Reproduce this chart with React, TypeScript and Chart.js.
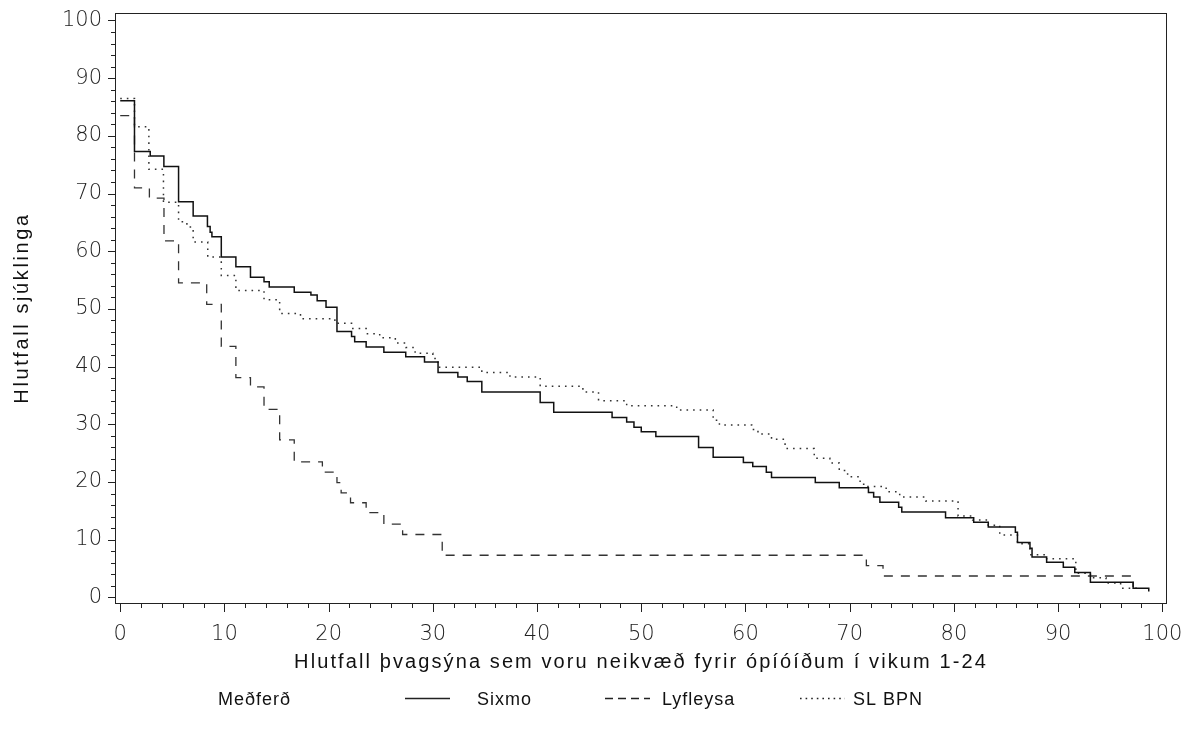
import React, { useEffect, useRef } from "react";
import { Chart, registerables } from "chart.js";

Chart.register(...registerables);

// ---- Data ----
const xTickValues = [0, 10, 20, 30, 40, 50, 60, 70, 80, 90, 100];
const yTickValues = [0, 10, 20, 30, 40, 50, 60, 70, 80, 90, 100];

const seriesNames = ["Sixmo", "Lyfleysa", "SL BPN"];
const legendTitle = "Meðferð";
const xAxisTitle = "Hlutfall þvagsýna sem voru neikvæð fyrir ópíóíðum í vikum 1-24";
const yAxisTitle = "Hlutfall sjúklinga";

// change points: from x onward the curve has value y
const sixmoX = [0, 1.37, 2.88, 4.19, 5.6, 7.0, 8.37, 8.63, 8.8, 9.7, 11.1, 12.5, 13.8, 14.3, 16.7, 18.3, 18.9, 19.75, 20.8, 22.2, 22.5, 23.6, 25.3, 27.4, 29.2, 30.5, 32.4, 33.3, 34.7, 40.3, 41.6, 47.2, 48.6, 49.3, 50.0, 51.4, 55.5, 56.9, 59.8, 60.7, 62.0, 62.5, 66.7, 69.0, 71.8, 72.3, 72.9, 74.7, 75.0, 79.2, 81.9, 83.3, 85.9, 86.1, 87.3, 87.5, 88.9, 90.5, 91.6, 93.1, 97.2, 98.7];
const sixmoY = [86.1, 77.3, 76.5, 74.7, 68.6, 66.1, 64.3, 63.3, 62.5, 59.0, 57.3, 55.5, 54.7, 53.8, 52.9, 52.4, 51.4, 50.3, 46.1, 45.2, 44.3, 43.4, 42.5, 41.7, 40.8, 39.0, 38.2, 37.4, 35.6, 33.8, 32.1, 31.2, 30.4, 29.5, 28.7, 27.9, 26.0, 24.3, 23.4, 22.7, 21.7, 20.8, 19.9, 19.0, 18.2, 17.4, 16.5, 15.6, 14.8, 13.8, 13.0, 12.2, 11.3, 9.5, 8.5, 7.0, 6.1, 5.2, 4.3, 2.6, 1.6, 1.0];

const lyfleysaX = [0, 1.37, 2.8, 4.2, 5.6, 8.3, 9.7, 11.1, 12.5, 13.8, 15.3, 16.7, 19.4, 20.8, 21.2, 22.1, 23.6, 25.3, 27.1, 30.9, 71.6, 73.2, 97.2];
const lyfleysaY = [83.5, 71.0, 69.2, 61.8, 54.5, 50.8, 43.5, 38.1, 36.5, 32.6, 27.3, 23.5, 21.7, 19.9, 18.1, 16.4, 14.7, 12.7, 10.9, 7.3, 5.5, 3.7, 1.8];

const slbpnX = [0, 1.37, 2.75, 4.15, 5.6, 6.4, 7.0, 8.4, 9.7, 11.1, 13.8, 15.3, 17.3, 20.6, 22.2, 23.6, 24.9, 26.4, 27.4, 28.3, 30.0, 30.5, 34.7, 37.4, 40.3, 44.4, 45.9, 48.6, 53.4, 56.9, 57.5, 60.6, 61.2, 62.5, 63.8, 66.6, 68.1, 69.0, 69.8, 71.0, 71.5, 73.5, 74.8, 77.3, 80.4, 81.8, 83.3, 84.4, 86.1, 87.3, 88.9, 91.7, 93.1, 94.6, 96.0, 98.0];
const slbpnY = [86.5, 81.6, 74.2, 68.5, 65.1, 64.2, 61.6, 59.0, 55.8, 53.2, 51.6, 49.2, 48.3, 47.5, 46.6, 45.7, 45.0, 44.1, 43.3, 42.3, 41.4, 39.9, 39.0, 38.2, 36.6, 35.6, 34.1, 33.2, 32.5, 30.7, 29.9, 29.1, 28.3, 27.4, 25.8, 24.1, 23.3, 22.0, 20.9, 19.6, 19.2, 18.3, 17.4, 16.7, 14.1, 13.4, 12.5, 10.8, 9.3, 7.4, 6.7, 4.2, 3.4, 2.5, 1.6, 1.6];

const toPoints = (xs: number[], ys: number[]) => xs.map((x, i) => ({ x, y: ys[i] }));

const W = 1194;
const H = 729;
const TITLE_FONT = "20px 'Liberation Sans', Arial, sans-serif";
const LEGEND_FONT = "18px 'Liberation Sans', Arial, sans-serif";

const dashStyles = [[], [9, 8], [1.6, 5]];
const legendDash = [[], [8, 5], [1.6, 4]];

const decorPlugin = {
  id: "decor",
  afterDraw(chart: any) {
    const ctx = chart.ctx as CanvasRenderingContext2D;
    const { left, right, top, bottom } = chart.chartArea;
    const xs = chart.scales.x;
    const ys = chart.scales.y;
    ctx.save();
    // frame
    ctx.strokeStyle = "#222";
    ctx.lineWidth = 1;
    ctx.setLineDash([]);
    ctx.strokeRect(Math.round(left) + 0.5, Math.round(top) + 0.5, Math.round(right - left) - 1, Math.round(bottom - top) - 1);
    // ticks
    ctx.beginPath();
    for (let v = 0; v <= 100; v += 2) {
      const px = Math.round(xs.getPixelForValue(v)) + 0.5;
      const len = v % 10 === 0 ? 8 : 4;
      ctx.moveTo(px, Math.round(bottom));
      ctx.lineTo(px, Math.round(bottom) + len);
      const py = Math.round(ys.getPixelForValue(v)) + 0.5;
      const ylen = v % 10 === 0 ? 7 : 4;
      ctx.moveTo(Math.round(left), py);
      ctx.lineTo(Math.round(left) - ylen, py);
    }
    ctx.stroke();

    // titles
    ctx.fillStyle = "#111";
    ctx.font = TITLE_FONT;
    (ctx as any).letterSpacing = "2.1px";
    ctx.textAlign = "center";
    ctx.textBaseline = "alphabetic";
    ctx.fillText(xAxisTitle, (left + right) / 2, 668);

    ctx.save();
    ctx.translate(28, 308);
    ctx.rotate(-Math.PI / 2);
    (ctx as any).letterSpacing = "2.6px";
    ctx.fillText(yAxisTitle, 0, 0);
    ctx.restore();

    // legend
    const ly = 705;
    ctx.font = LEGEND_FONT;
    ctx.textAlign = "left";
    ctx.textBaseline = "alphabetic";
    (ctx as any).letterSpacing = "1px";
    ctx.fillText(legendTitle, 218, ly);
    const items = [
      { x1: 405, x2: 450, tx: 477 },
      { x1: 605, x2: 650, tx: 662 },
      { x1: 800, x2: 845, tx: 853 },
    ];
    items.forEach((it, i) => {
      ctx.save();
      ctx.strokeStyle = "#222";
      ctx.lineWidth = 1.3;
      ctx.setLineDash(legendDash[i]);
      ctx.beginPath();
      ctx.moveTo(it.x1, ly - 6.5);
      ctx.lineTo(it.x2, ly - 6.5);
      ctx.stroke();
      ctx.restore();
      ctx.fillText(seriesNames[i], it.tx, ly);
    });
    ctx.restore();
  },
};

export default function App() {
  const canvasRef = useRef<HTMLCanvasElement | null>(null);

  useEffect(() => {
    const canvas = canvasRef.current;
    if (!canvas) return;
    const tickFont = { family: "'DejaVu Sans', sans-serif", size: 21, weight: 200 as any };
    const chart = new Chart(canvas, {
      type: "line",
      data: {
        datasets: [
          { label: seriesNames[0], data: toPoints(sixmoX, sixmoY), borderColor: "#111", borderWidth: 1.5, borderDash: dashStyles[0] },
          { label: seriesNames[1], data: toPoints(lyfleysaX, lyfleysaY), borderColor: "#333", borderWidth: 1.3, borderDash: dashStyles[1] },
          { label: seriesNames[2], data: toPoints(slbpnX, slbpnY), borderColor: "#333", borderWidth: 1.5, borderDash: dashStyles[2] },
        ].map((d) => ({ ...d, stepped: true, pointRadius: 0, fill: false, tension: 0 })) as any,
      },
      options: {
        animation: false,
        responsive: false,
        devicePixelRatio: 1,
        layout: { padding: { left: 0, right: W - 1167, top: 13, bottom: 0 } },
        plugins: { legend: { display: false }, tooltip: { enabled: false } },
        scales: {
          x: {
            type: "linear",
            min: -0.5,
            max: 100.45,
            grid: { display: false, drawTicks: false },
            border: { display: false },
            ticks: { font: tickFont, color: "#222", padding: 18, autoSkip: false, maxRotation: 0 },
            afterBuildTicks: (s: any) => {
              s.ticks = xTickValues.map((v) => ({ value: v }));
            },
            afterFit: (s: any) => {
              s.height = H - 604;
              s.paddingLeft = 0;
              s.paddingRight = 0;
            },
          },
          y: {
            type: "linear",
            min: -1.15,
            max: 101.3,
            grid: { display: false, drawTicks: false },
            border: { display: false },
            ticks: { font: tickFont, color: "#222", padding: 13, autoSkip: false },
            afterBuildTicks: (s: any) => {
              s.ticks = yTickValues.map((v) => ({ value: v }));
            },
            afterFit: (s: any) => {
              s.width = 115;
              s.paddingTop = 0;
              s.paddingBottom = 0;
            },
          },
        },
      },
      plugins: [decorPlugin],
    });
    return () => chart.destroy();
  }, []);

  return (
    <div style={{ position: "fixed", left: 0, top: 0, width: W, height: H, background: "#fff" }}>
      <canvas ref={canvasRef} width={W} height={H} style={{ width: W, height: H, display: "block" }} />
    </div>
  );
}
